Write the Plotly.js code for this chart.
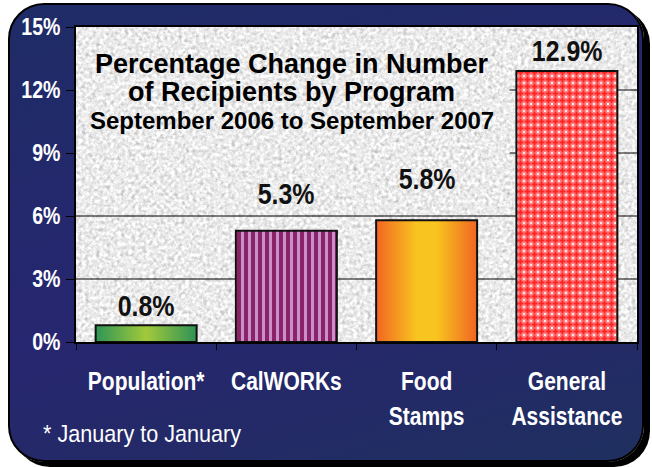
<!DOCTYPE html>
<html>
<head>
<meta charset="utf-8">
<script src="https://cdn.plot.ly/plotly-3.0.1.min.js"></script>
<style>
  html, body { margin:0; padding:0; background:#ffffff; width:652px; height:467px; overflow:hidden; }
  #frame { position:absolute; left:8px; top:3px; width:632px; height:455px; border:2px solid #000;
    border-radius:36px; box-shadow:6px 5px 0 #000;
    background: linear-gradient(165deg, #1e2c66 0%, #272670 55%, #232a66 80%, #1f305f 100%); }
  #chart { position:absolute; left:0; top:0; width:652px; height:467px; }
</style>
</head>
<body>
<div id="frame"></div>
<div id="chart"></div>
<script>
// ---- data ----
var categories = ["Population*", "CalWORKs", "Food<br>Stamps", "General<br>Assistance"];
var values = [0.8, 5.3, 5.8, 12.9];
var valueLabels = ["0.8%", "5.3%", "5.8%", "12.9%"];
var yTickVals = [0, 3, 6, 9, 12, 15];
var yTickText = ["0%", "3%", "6%", "9%", "12%", "15%"];
var titleLines = ["Percentage Change in Number", "of Recipients by Program"];
var subtitleText = "September 2006 to September 2007";
var footnoteText = "* January to January";

var SANS = "'Liberation Sans', Arial, sans-serif";

function buildLabels() {
  var shifts = [1, 19, 23, 2];
  return valueLabels.map(function (t, i) {
    return { x: categories[i], y: values[i], xref: 'x', yref: 'y', text: '<b>' + t + '</b>',
      showarrow: false, yanchor: 'bottom', yshift: shifts[i],
      font: { family: SANS, size: 29, color: '#111' } };
  });
}

function buildGrid() {
  var partialFrom = 0.773;
  return yTickVals.filter(function (v) { return v > 0 && v < 15; }).map(function (v) {
    return { type: 'line', layer: 'below', xref: 'x domain', yref: 'y',
      x0: v > 8 ? partialFrom : 0, x1: 1, y0: v, y1: v,
      line: { color: '#000', width: 1 } };
  });
}

var trace = {
  type: 'bar', x: categories, y: values, width: 0.72, hoverinfo: 'skip',
  marker: {
    color: ['#6db545', '#a9589a', '#f5a020', '#ff5a5a'],
    opacity: 1,
    line: { color: '#111', width: 2 }
  }
};

var annotations = buildLabels().concat([
  { xref: 'paper', yref: 'paper', x: 0.385, y: 0.883, xanchor: 'center', yanchor: 'middle',
    text: '<b>' + titleLines[0] + '</b>', showarrow: false,
    font: { family: SANS, size: 27, color: '#000' } },
  { xref: 'paper', yref: 'paper', x: 0.385, y: 0.794, xanchor: 'center', yanchor: 'middle',
    text: '<b>' + titleLines[1] + '</b>', showarrow: false,
    font: { family: SANS, size: 27, color: '#000' } },
  { xref: 'paper', yref: 'paper', x: 0.385, y: 0.702, xanchor: 'center', yanchor: 'middle',
    text: '<b>' + subtitleText + '</b>', showarrow: false,
    font: { family: SANS, size: 24, color: '#000' } },
  { xref: 'paper', yref: 'paper', x: -0.062, y: -0.29, xanchor: 'left', yanchor: 'middle',
    text: footnoteText, showarrow: false,
    font: { family: SANS, size: 24, color: '#fff' } }
]);

var layout = {
  width: 652, height: 467,
  margin: { l: 76, r: 15, t: 27, b: 125, pad: 0 },
  paper_bgcolor: 'rgba(0,0,0,0)',
  plot_bgcolor: '#e6e6e6',
  showlegend: false,
  xaxis: {
    type: 'category', tickson: 'boundaries', ticks: 'outside', ticklen: 6, tickcolor: '#000',
    showline: true, linecolor: '#000', linewidth: 2, mirror: true, showgrid: false, tickangle: 0,
    tickfont: { family: SANS, size: 25, color: '#fff', weight: 'bold' },
    ticklabelstandoff: 16, fixedrange: true
  },
  yaxis: {
    range: [0, 15], tickvals: yTickVals, ticktext: yTickText, ticks: 'outside', ticklen: 8,
    tickcolor: '#000', showline: true, linecolor: '#000', linewidth: 2, mirror: true,
    showgrid: false, zeroline: false,
    tickfont: { family: SANS, size: 23, color: '#fff', weight: 'bold' },
    ticklabelstandoff: 1, fixedrange: true
  },
  shapes: buildGrid(),
  annotations: annotations
};

function condense(el, s, mode) {
  var bb = el.getBBox();
  var px = mode === 'left' ? bb.x : (mode === 'right' ? bb.x + bb.width : bb.x + bb.width / 2);
  var t = el.getAttribute('transform') || '';
  el.setAttribute('transform', t + ' translate(' + px + ',0) scale(' + s + ',1) translate(' + (-px) + ',0)');
}

Plotly.newPlot('chart', [trace], layout, { displayModeBar: false, staticPlot: true }).then(function (gd) {
  var svg = gd.querySelector('svg.main-svg');
  var defs = svg.querySelector('defs');
  var NS = 'http://www.w3.org/2000/svg';
  function grad(id, stops) {
    var g = document.createElementNS(NS, 'linearGradient');
    g.setAttribute('id', id); g.setAttribute('x1', '0'); g.setAttribute('x2', '1');
    g.setAttribute('y1', '0'); g.setAttribute('y2', '0');
    stops.forEach(function (s) {
      var st = document.createElementNS(NS, 'stop');
      st.setAttribute('offset', s[0]); st.setAttribute('stop-color', s[1]);
      g.appendChild(st);
    });
    defs.appendChild(g);
  }
  function pattern(id, size, inner) {
    var p = document.createElementNS(NS, 'pattern');
    p.setAttribute('id', id); p.setAttribute('patternUnits', 'userSpaceOnUse');
    p.setAttribute('width', size); p.setAttribute('height', size);
    p.innerHTML = inner;
    defs.appendChild(p);
  }
  grad('gGreen', [[0, '#2f9556'], [0.5, '#a2c93a'], [1, '#2e9257']]);
  grad('gOrange', [[0, '#f26622'], [0.4, '#f8c41f'], [0.6, '#f8c41f'], [1, '#f06522']]);
  pattern('pStripe', 7, '<rect width="7" height="7" fill="#c98fcd"/><rect x="0" width="4" height="7" fill="#8a2466"/>');
  pattern('pCross', 7,
    '<rect width="7" height="7" fill="#ff8080"/>' +
    '<rect x="2.5" y="0.5" width="2" height="6" fill="#ff2424"/>' +
    '<rect x="0.5" y="2.5" width="6" height="2" fill="#ff2424"/>' +
    '<rect x="0" y="0" width="1" height="1" fill="#ffe6e6"/><rect x="6" y="0" width="1" height="1" fill="#ffe6e6"/>' +
    '<rect x="0" y="6" width="1" height="1" fill="#ffe6e6"/><rect x="6" y="6" width="1" height="1" fill="#ffe6e6"/>');

  var f = document.createElementNS(NS, 'filter');
  f.setAttribute('id', 'granite');
  f.setAttribute('color-interpolation-filters', 'sRGB');
  f.setAttribute('x', '0'); f.setAttribute('y', '0'); f.setAttribute('width', '1'); f.setAttribute('height', '1');
  f.innerHTML = '<feTurbulence type="fractalNoise" baseFrequency="0.28" numOctaves="3" seed="7" result="t"/>' +
    '<feColorMatrix in="t" type="matrix" values="0.33 0.33 0.33 0 0  0.33 0.33 0.33 0 0  0.33 0.33 0.33 0 0  0 0 0 0 1" result="g"/>' +
    '<feComponentTransfer in="g"><feFuncR type="linear" slope="0.75" intercept="0.55"/>' +
    '<feFuncG type="linear" slope="0.75" intercept="0.55"/><feFuncB type="linear" slope="0.75" intercept="0.55"/>' +
    '<feFuncA type="linear" slope="0" intercept="1"/></feComponentTransfer>';
  defs.appendChild(f);

  var bg = gd.querySelector('.bglayer rect.bg');
  if (bg) bg.setAttribute('filter', 'url(#granite)');
  var fills = ['url(#gGreen)', 'url(#pStripe)', 'url(#gOrange)', 'url(#pCross)'];
  gd.querySelectorAll('.trace.bars .point path').forEach(function (p, i) {
    if (fills[i]) p.style.fill = fills[i];
  });

  // taller line spacing for two-line category labels
  gd.querySelectorAll('.xtick text tspan.line').forEach(function (ts) {
    var dy = ts.getAttribute('dy');
    if (dy && parseFloat(dy) > 0) ts.setAttribute('dy', '1.4em');
  });

  // condensed (narrow) lettering like the original
  gd.querySelectorAll('.xtick text').forEach(function (el) { condense(el, 0.84, 'center'); });
  gd.querySelectorAll('.ytick text').forEach(function (el) { condense(el, 0.85, 'right'); });
  var ann = gd.querySelectorAll('.annotation text.annotation-text');
  ann.forEach(function (el, i) {
    if (i < 4) condense(el, 0.86, 'center');
    else if (i === 7) condense(el, 0.9, 'left');
  });
});
</script>
</body>
</html>
